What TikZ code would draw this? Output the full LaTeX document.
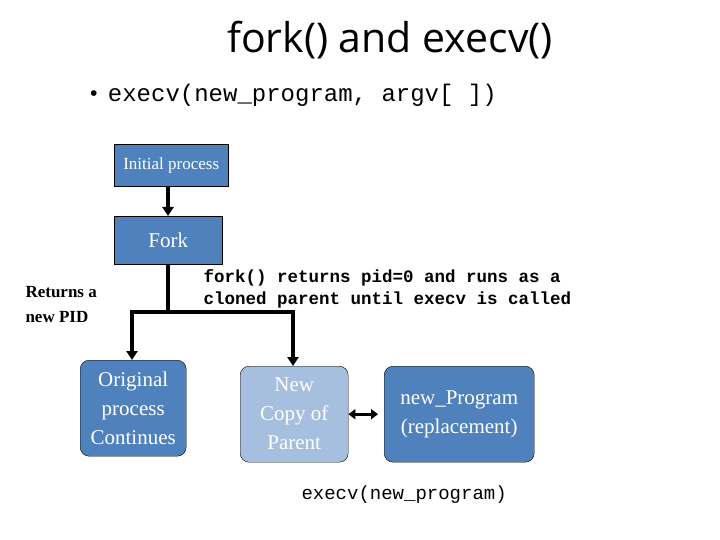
\documentclass[tikz,border=0pt]{standalone}
\usepackage{fontspec}
\setmainfont{Liberation Serif}
\setmonofont{Liberation Mono}
\newfontfamily\titlefont{Open Sans}
\usetikzlibrary{arrows.meta}
\definecolor{dblue}{HTML}{4F81BD}
\definecolor{lblue}{HTML}{A7BFDE}
\tikzset{
  sq/.style={draw=black, fill=dblue, text=white, inner sep=0pt, anchor=north west},
  rbox/.style={draw=black, fill=dblue, text=white, rounded corners=9pt, inner sep=0pt, anchor=north west, align=center, font=\fontsize{21}{29}\selectfont},
  conn/.style={line width=4.5pt, -{Triangle[length=9pt,width=11pt]}},
}
\begin{document}
\begin{tikzpicture}[x=1pt,y=-1pt]
\useasboundingbox (0,0) rectangle (720,540);
\node (title) at (390,40) {\titlefont\fontsize{41}{44}\selectfont fork() and execv()};
\node[anchor=west] (bul) at (86,95) {\fontsize{24}{26}\selectfont\textbullet\hspace{10pt}\ttfamily execv(new\_program, argv[ ])};
\node[sq, minimum width=114pt, minimum height=42pt] (init) at (114,144) {\fontsize{17}{19}\selectfont Initial process};
\node[sq, minimum width=108pt, minimum height=48pt] (fork) at (114,216) {\fontsize{21}{23}\selectfont Fork};
\node[rbox, minimum width=106pt, minimum height=96pt] (orig) at (80,360) {Original\\process\\Continues};
\node[rbox, fill=lblue, minimum width=108pt, minimum height=96pt] (new) at (240,366) {New\\Copy of\\Parent};
\node[rbox, minimum width=150pt, minimum height=96pt] (prog) at (384,366) {new\_Program\\(replacement)};
\node[align=left, anchor=west, font=\bfseries\fontsize{17}{25}\selectfont] (ret) at (22,305) {Returns a\\new PID};
\node[align=left, anchor=west, font=\ttfamily\bfseries\fontsize{17.5}{22}\selectfont] (ftxt) at (200,289) {fork() returns pid=0 and runs as a\\cloned parent until execv is called};
\node[anchor=west, font=\ttfamily\fontsize{19}{20}\selectfont] (ex) at (298,495) {execv(new\_program)};
\coordinate (j) at (168,312);
\draw[conn] (init.south -| 168,0) -- (fork.north -| 168,0);
\draw[line width=4.5pt] (fork.south -| 168,0) -- (j);
\draw[conn] (j) -- (132,312) -- (orig.north -| 132,0);
\draw[conn] (j) -- (293,312) -- (new.north -| 293,0);
\draw[line width=3pt, {Triangle[length=7pt,width=10pt]}-{Triangle[length=7pt,width=10pt]}] (new.east) -- (prog.west -| 378,0);
\end{tikzpicture}
\end{document}
